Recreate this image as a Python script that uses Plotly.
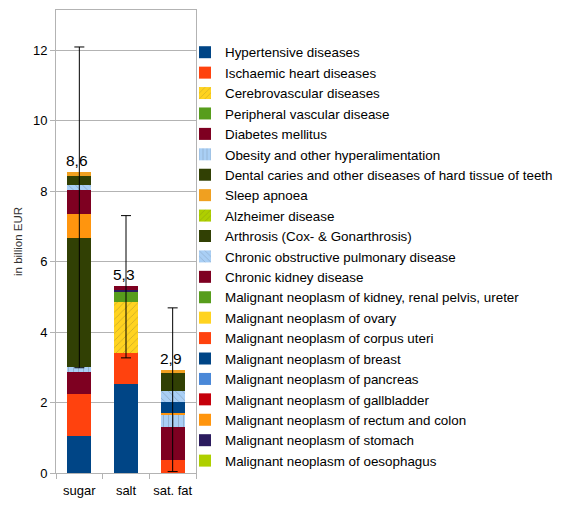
import plotly.graph_objects as go

categories = ["sugar", "salt", "sat. fat"]

# values in billion EUR for [sugar, salt, sat. fat]
hypertensive = [1.05, 2.54, 0.0]
ischaemic = [1.19, 0.86, 0.37]
cerebrovascular = [0.0, 1.47, 0.0]
peripheral = [0.0, 0.26, 0.0]
diabetes = [0.62, 0.0, 0.95]
obesity = [0.16, 0.0, 0.33]
dental = [3.65, 0.0, 0.0]
sleep_apnoea = [0.12, 0.0, 0.10]
alzheimer = [0.0, 0.0, 0.0]
arthrosis = [0.25, 0.0, 0.49]
copd = [0.14, 0.0, 0.31]
ckd = [0.70, 0.11, 0.0]
neo_kidney = [0.0, 0.0, 0.0]
neo_ovary = [0.0, 0.0, 0.0]
neo_corpus = [0.0, 0.0, 0.0]
neo_breast = [0.0, 0.0, 0.32]
neo_pancreas = [0.0, 0.0, 0.0]
neo_gallbladder = [0.0, 0.0, 0.0]
neo_rectum = [0.68, 0.0, 0.06]
neo_stomach = [0.0, 0.08, 0.0]
neo_oesophagus = [0.0, 0.0, 0.0]

err_low = [2.99, 3.27, 0.04]
err_high = [12.1, 7.31, 4.69]

y_ticks = [0, 2, 4, 6, 8, 10, 12]

# (name, values, color, pattern shape, legend rank) in stacking order
series = [
    ("Hypertensive diseases", hypertensive, "#004586", "", 1),
    ("Ischaemic heart diseases", ischaemic, "#ff420e", "", 2),
    ("Cerebrovascular diseases", cerebrovascular, "#ffd320", "/", 3),
    ("Peripheral vascular disease", peripheral, "#579d1c", "", 4),
    ("Diabetes mellitus", diabetes, "#7e0021", "", 5),
    ("Obesity and other hyperalimentation", obesity, "#a9cff5", "|", 6),
    ("Dental caries and other diseases of hard tissue of teeth", dental, "#314004", "", 7),
    ("Malignant neoplasm of oesophagus", neo_oesophagus, "#aecf00", "", 21),
    ("Malignant neoplasm of stomach", neo_stomach, "#2b1b5e", "", 20),
    ("Malignant neoplasm of rectum and colon", neo_rectum, "#ff950e", "", 19),
    ("Malignant neoplasm of gallbladder", neo_gallbladder, "#c5000b", "", 18),
    ("Malignant neoplasm of pancreas", neo_pancreas, "#4a88d8", "", 17),
    ("Malignant neoplasm of breast", neo_breast, "#004586", "", 16),
    ("Malignant neoplasm of corpus uteri", neo_corpus, "#ff420e", "", 15),
    ("Malignant neoplasm of ovary", neo_ovary, "#ffd320", "", 14),
    ("Malignant neoplasm of kidney, renal pelvis, ureter", neo_kidney, "#579d1c", "", 13),
    ("Chronic kidney disease", ckd, "#7e0021", "", 12),
    ("Chronic obstructive pulmonary disease", copd, "#a9cff5", "\\", 11),
    ("Arthrosis (Cox- & Gonarthrosis)", arthrosis, "#314004", "", 10),
    ("Alzheimer disease", alzheimer, "#aecf00", "/", 9),
    ("Sleep apnoea", sleep_apnoea, "#f0a020", "", 8),
]

fig = go.Figure()
for name, vals, color, shape, rank in series:
    marker = dict(color=color, line=dict(width=0))
    if shape:
        marker["pattern"] = dict(shape=shape, fillmode="overlay",
                                 fgcolor="rgba(60,60,60,0.55)", size=5, solidity=0.15)
    fig.add_trace(go.Bar(x=categories, y=vals, name=name, marker=marker,
                         legendrank=rank))

totals = [sum(s[1][i] for s in series) for i in range(len(categories))]
labels = [f"{t:.1f}".replace(".", ",") for t in totals]

fig.add_trace(go.Scatter(
    x=categories, y=totals, mode="markers",
    marker=dict(size=1, color="rgba(0,0,0,0)"),
    error_y=dict(type="data", symmetric=False,
                 array=[h - t for h, t in zip(err_high, totals)],
                 arrayminus=[t - l for l, t in zip(err_low, totals)],
                 color="#000000", thickness=1, width=5),
    showlegend=False, hoverinfo="skip", cliponaxis=False))

for cat, tot, lab in zip(categories, totals, labels):
    fig.add_annotation(x=cat, y=tot, text=lab, showarrow=False,
                       xanchor="center", yanchor="bottom", xshift=-2, yshift=1,
                       font=dict(size=15.5, color="#000000",
                                 family="Liberation Sans, Arial"))

plot_left, plot_right, plot_top, plot_bottom = 56, 196, 10, 473
pw = plot_right - plot_left
ph = plot_bottom - plot_top

fig.update_layout(
    width=580, height=506,
    barmode="stack", bargap=0.49,
    paper_bgcolor="white", plot_bgcolor="white",
    margin=dict(l=plot_left, r=580 - plot_right, t=plot_top, b=506 - plot_bottom,
                autoexpand=False),
    font=dict(family="Liberation Sans, Arial", size=13, color="#000000"),
    showlegend=True,
    legend=dict(x=(185 - plot_left) / pw, y=(plot_bottom - 37) / ph,
                xanchor="left", yanchor="top", font=dict(size=13.4, color="#000000"),
                bgcolor="rgba(0,0,0,0)", traceorder="normal", itemwidth=30,
                maxheight=480),
    xaxis=dict(showline=True, linecolor="#b3b3b3", linewidth=1, mirror=True,
               ticks="outside", tickson="boundaries", ticklen=5, tickcolor="#b3b3b3",
               tickfont=dict(size=13, color="#000000"), showgrid=False,
               tickangle=0, automargin=False, ticklabelstandoff=5),
    yaxis=dict(range=[0, 13.15], tickvals=y_ticks, showline=True, linecolor="#b3b3b3",
               linewidth=1, mirror=True, ticks="outside", ticklen=5, tickcolor="#b3b3b3",
               gridcolor="#b3b3b3", gridwidth=1, zeroline=False, automargin=False,
               tickfont=dict(size=13, color="#000000"),
               title=dict(text="in billion EUR", font=dict(size=11.5, color="#333333"),
                          standoff=7)),
)

fig.write_html("out.html")
